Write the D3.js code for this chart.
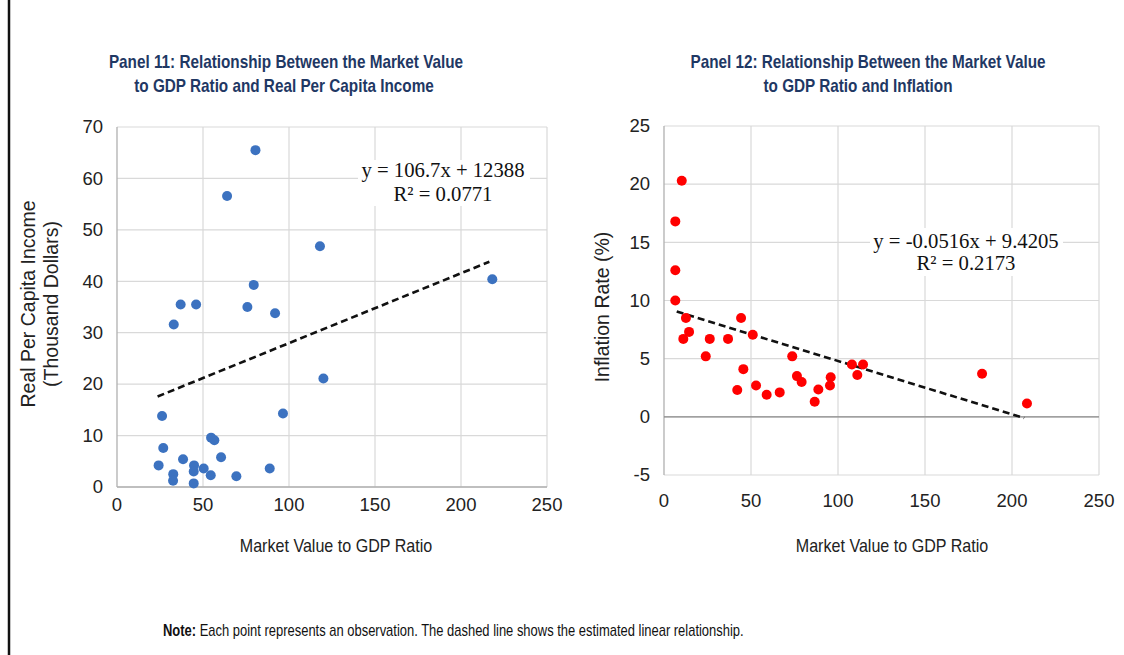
<!DOCTYPE html>
<html>
<head>
<meta charset="utf-8">
<script src="https://cdn.jsdelivr.net/npm/d3@7"></script>
<style>
  html, body { margin: 0; padding: 0; background: #fff; }
  svg { display: block; }
  .sans { font-family: "Liberation Sans", Arial, sans-serif; }
  .serif { font-family: "Liberation Serif", "Times New Roman", serif; }
</style>
</head>
<body>
<svg id="chart" width="1124" height="655"></svg>
<script>
// Panel 11: market value / GDP ratio vs real per capita income (thousand $)
const ratio11  = [80.5, 64, 79.5, 37, 46, 75.8, 91.9, 33, 26.2, 96.5, 54.7, 56.6, 26.9, 60.5, 38.4,
                  24.2, 44.8, 44.6, 50.4, 88.8, 32.7, 32.6, 54.5, 69.4, 44.6, 118, 120, 218.2];
const income11 = [65.5, 56.6, 39.3, 35.5, 35.5, 35.0, 33.8, 31.6, 13.8, 14.3, 9.6, 9.1, 7.6, 5.8, 5.4,
                  4.2, 4.2, 3.0, 3.6, 3.6, 2.5, 1.2, 2.3, 2.1, 0.7, 46.8, 21.1, 40.4];
const trend11  = [[23.6, 17.6], [216.5, 43.8]];
const eq11     = ["y = 106.7x + 12388", "R² = 0.0771"];

// Panel 12: market value / GDP ratio vs inflation (%)
const ratio12     = [10.2, 6.5, 6.5, 6.5, 12.6, 14.4, 11.1, 26.3, 36.8, 24, 44.3, 51, 45.6, 42.1, 52.9,
                     59, 66.5, 73.7, 76.4, 79.1, 86.6, 88.7, 95.4, 95.8, 108, 114.4, 111.1, 182.8, 208.6];
const inflation12 = [20.3, 16.8, 12.6, 10.0, 8.5, 7.3, 6.7, 6.7, 6.7, 5.2, 8.5, 7.05, 4.1, 2.3, 2.7,
                     1.9, 2.1, 5.2, 3.5, 3.0, 1.3, 2.35, 2.7, 3.4, 4.5, 4.5, 3.6, 3.7, 1.15];
const trend12     = [[7.3, 9.05], [207, -0.1]];
const eq12        = ["y = -0.0516x + 9.4205", "R² = 0.2173"];

const xTicks   = [0, 50, 100, 150, 200, 250];
const yTicks11 = [0, 10, 20, 30, 40, 50, 60, 70];
const yTicks12 = [-5, 0, 5, 10, 15, 20, 25];

const svg = d3.select("#chart");
svg.append("rect").attr("width", 1124).attr("height", 655).attr("fill", "#fff");

// black rule down the left edge
svg.append("line").attr("x1", 9).attr("x2", 9).attr("y1", 0).attr("y2", 655)
    .attr("stroke", "#111").attr("stroke-width", 2.5);

// no narrow face installed, so squeeze Liberation Sans horizontally
function narrowText(parent, x, y, sx) {
    return parent.append("text").attr("class", "sans")
        .attr("transform", `translate(${x},${y}) scale(${sx},1)`);
}

function drawPanel(p) {
    const x = d3.scaleLinear().domain([0, 250]).range(p.xRange);
    const y = d3.scaleLinear().domain(d3.extent(p.yTicks)).range(p.yRange);
    const g = svg.append("g");

    // gridlines
    g.selectAll(null).data(p.yTicks).enter().append("line")
        .attr("x1", p.xRange[0]).attr("x2", p.xRange[1])
        .attr("y1", d => y(d)).attr("y2", d => y(d))
        .attr("stroke", "#d9d9d9").attr("stroke-width", 1.2);
    g.selectAll(null).data(xTicks.slice(1)).enter().append("line")
        .attr("x1", d => x(d)).attr("x2", d => x(d))
        .attr("y1", p.yRange[0]).attr("y2", p.yRange[1])
        .attr("stroke", "#d9d9d9").attr("stroke-width", 1.2);

    // axes
    g.append("line").attr("x1", x(0)).attr("x2", x(0))
        .attr("y1", p.yRange[0]).attr("y2", p.yRange[1])
        .attr("stroke", "#b0b0b0").attr("stroke-width", 1.3);
    g.append("line").attr("x1", p.xRange[0]).attr("x2", p.xRange[1])
        .attr("y1", y(0)).attr("y2", y(0))
        .attr("stroke", p.zeroColor).attr("stroke-width", 1.3);

    // tick labels
    g.selectAll(null).data(xTicks).enter().append("text").attr("class", "sans")
        .attr("x", d => x(d)).attr("y", p.xTickY)
        .attr("text-anchor", "middle").attr("font-size", 18.5).attr("fill", "#222")
        .text(d => d);
    g.selectAll(null).data(p.yTicks).enter().append("text").attr("class", "sans")
        .attr("x", p.xRange[0] - 14).attr("y", d => y(d)).attr("dy", "0.34em")
        .attr("text-anchor", "end").attr("font-size", 18.5).attr("fill", "#222")
        .text(d => d);

    // axis titles
    narrowText(g, p.xTitleX, 552, 0.92)
        .attr("text-anchor", "middle").attr("font-size", 17.5).attr("fill", "#222")
        .text("Market Value to GDP Ratio");
    p.yTitle.forEach((t, i) => {
        g.append("text").attr("class", "sans")
            .attr("text-anchor", "middle").attr("font-size", 19.5).attr("fill", "#222")
            .attr("transform", `translate(${p.yTitleX + i * 23},${p.yTitleY}) rotate(-90)`)
            .text(t);
    });

    // panel title
    p.title.forEach((t, i) => {
        narrowText(g, p.titleX[i], 68 + i * 24, 0.85)
            .attr("text-anchor", "middle").attr("font-size", 18).attr("font-weight", "bold")
            .attr("fill", "#1f3864")
            .text(t);
    });

    // trend line
    g.append("path").datum(p.trend)
        .attr("fill", "none").attr("stroke", "#111").attr("stroke-width", 2.6)
        .attr("stroke-dasharray", "7,4")
        .attr("d", d3.line().x(d => x(d[0])).y(d => y(d[1])));

    // points
    g.selectAll(null).data(p.xs).enter().append("circle")
        .attr("cx", d => x(d)).attr("cy", (d, i) => y(p.ys[i]))
        .attr("r", 5).attr("fill", p.color);

    // equation label on white box
    const b = p.eqBox;
    g.append("rect").attr("x", b[0]).attr("y", b[1]).attr("width", b[2]).attr("height", b[3])
        .attr("fill", "#fff");
    p.eq.forEach((t, i) => {
        g.append("text").attr("class", "serif")
            .attr("x", p.eqX).attr("y", p.eqY + i * p.eqGap)
            .attr("text-anchor", "middle").attr("font-size", 20.7).attr("fill", "#111")
            .text(t);
    });
}

drawPanel({
    xRange: [117, 547], yRange: [487, 127], yTicks: yTicks11,
    xs: ratio11, ys: income11, color: "#3c72c0", zeroColor: "#b0b0b0",
    trend: trend11, eq: eq11, eqX: 443, eqY: 177, eqGap: 24, eqBox: [358, 160, 172, 46],
    xTickY: 511, xTitleX: 336,
    yTitle: ["Real Per Capita Income", "(Thousand Dollars)"], yTitleX: 35, yTitleY: 304,
    title: ["Panel 11: Relationship Between the Market Value", "to GDP Ratio and Real Per Capita Income"],
    titleX: [286, 284]
});

drawPanel({
    xRange: [664, 1099], yRange: [475, 126], yTicks: yTicks12,
    xs: ratio12, ys: inflation12, color: "#ff0000", zeroColor: "#8a8a8a",
    trend: trend12, eq: eq12, eqX: 966, eqY: 248, eqGap: 22, eqBox: [870, 228, 193, 48],
    xTickY: 507, xTitleX: 892,
    yTitle: ["Inflation Rate (%)"], yTitleX: 609, yTitleY: 307,
    title: ["Panel 12: Relationship Between the Market Value", "to GDP Ratio and Inflation"],
    titleX: [868, 858]
});

// footnote
const note = narrowText(svg, 163, 636, 0.81).attr("font-size", 16).attr("fill", "#111");
note.append("tspan").attr("font-weight", "bold").text("Note:");
note.append("tspan").text(" Each point represents an observation. The dashed line shows the estimated linear relationship.");
</script>
</body>
</html>
